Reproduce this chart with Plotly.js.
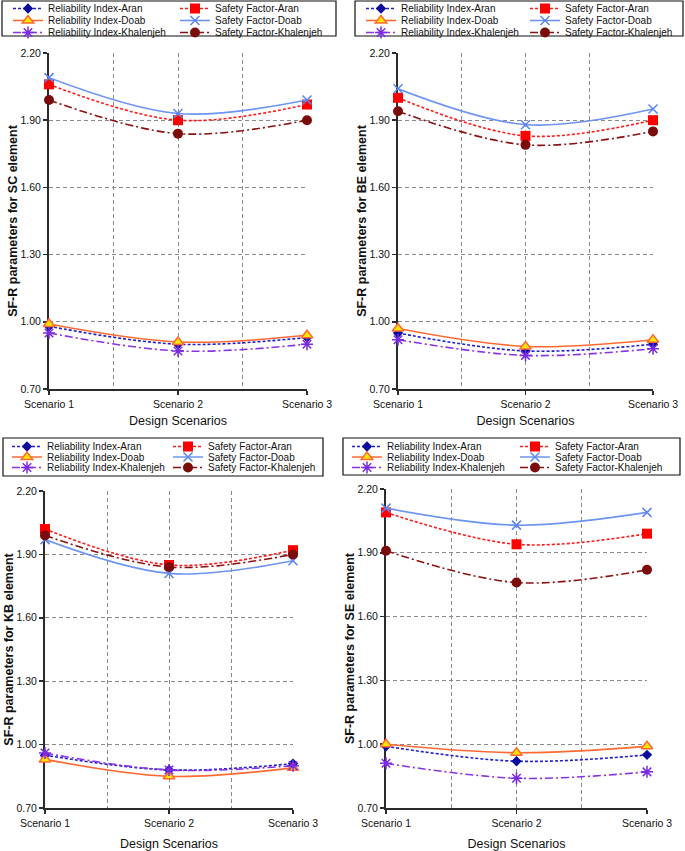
<!DOCTYPE html>
<html><head><meta charset="utf-8">
<script src="https://cdn.plot.ly/plotly-3.0.1.min.js"></script>
<style>html,body{margin:0;padding:0;background:#fff}#chart{width:685px;height:851px}</style>
</head><body><div id="chart"></div>
<script>
// ---- data ----
const scenarios = ['Scenario 1', 'Scenario 2', 'Scenario 3'];
const scenarioPos = [1, 2, 3];
const yTickVals = [0.70, 1.00, 1.30, 1.60, 1.90, 2.20];
const elements = ['SC', 'BE', 'KB', 'SE'];
const seriesNames = ['Reliability Index-Aran', 'Safety Factor-Aran', 'Reliability Index-Doab',
                     'Safety Factor-Doab', 'Reliability Index-Khalenjeh', 'Safety Factor-Khalenjeh'];

// SC element
const scRelAran = [0.98, 0.90, 0.93];
const scSafAran = [2.06, 1.90, 1.97];
const scRelDoab = [0.99, 0.91, 0.94];
const scSafDoab = [2.09, 1.93, 1.99];
const scRelKhal = [0.95, 0.87, 0.90];
const scSafKhal = [1.99, 1.84, 1.90];
// BE element
const beRelAran = [0.95, 0.87, 0.90];
const beSafAran = [2.00, 1.83, 1.90];
const beRelDoab = [0.97, 0.89, 0.92];
const beSafDoab = [2.04, 1.88, 1.95];
const beRelKhal = [0.92, 0.85, 0.88];
const beSafKhal = [1.94, 1.79, 1.85];
// KB element
const kbRelAran = [0.95, 0.88, 0.91];
const kbSafAran = [2.02, 1.85, 1.92];
const kbRelDoab = [0.93, 0.85, 0.89];
const kbSafDoab = [1.97, 1.81, 1.87];
const kbRelKhal = [0.96, 0.88, 0.90];
const kbSafKhal = [1.99, 1.84, 1.90];
// SE element
const seRelAran = [0.99, 0.92, 0.95];
const seSafAran = [2.09, 1.94, 1.99];
const seRelDoab = [1.00, 0.96, 0.99];
const seSafDoab = [2.11, 2.03, 2.09];
const seRelKhal = [0.91, 0.84, 0.87];
const seSafKhal = [1.91, 1.76, 1.82];

const panelSeries = [
  [scRelAran, scSafAran, scRelDoab, scSafDoab, scRelKhal, scSafKhal],
  [beRelAran, beSafAran, beRelDoab, beSafDoab, beRelKhal, beSafKhal],
  [kbRelAran, kbSafAran, kbRelDoab, kbSafDoab, kbRelKhal, kbSafKhal],
  [seRelAran, seSafAran, seRelDoab, seSafDoab, seRelKhal, seSafKhal]
];

// ---- styles ----
const W = 685, H = 851;
const FONT = 'Liberation Sans, Arial, Helvetica, sans-serif';
const seriesStyle = [
  {line: {color: '#1f1fd0', width: 1.6, dash: '3px,2px'}, marker: {symbol: 'diamond', size: 8, color: '#0c0c9c', line: {width: 0}}},
  {line: {color: '#ff1a1a', width: 1.6, dash: '3px,2px'}, marker: {symbol: 'square', size: 10, color: '#ff0000', line: {width: 0}}},
  {line: {color: '#ff6a33', width: 1.6}, marker: {symbol: 'triangle-up', size: 10, color: '#ffe600', line: {width: 1.5, color: '#ff6a33'}}},
  {line: {color: '#6d94f2', width: 1.6}, marker: {symbol: 'x-thin-open', size: 9, color: '#5b86ee', line: {width: 1.5, color: '#5b86ee'}}},
  {line: {color: '#8a33e6', width: 1.6, dash: '8px,3px,2px,3px'}, marker: {symbol: 'asterisk-open', size: 10, color: '#7a2be0', line: {width: 1.5, color: '#7a2be0'}}},
  {line: {color: '#8b1010', width: 1.6, dash: '8px,3px,2px,3px'}, marker: {symbol: 'circle', size: 10, color: '#7a0c0c', line: {width: 0}}}
];

// pixel layout of each panel
const panels = [
  {plot: [49, 307, 53, 389],  box: [2, 1, 336, 36],    colX: [8, 175],   rowY: [8.5, 20.5, 32.5], xStand: 8},
  {plot: [398, 653, 53, 389], box: [355, 1, 683, 36],  colX: [361, 525], rowY: [8.5, 20.5, 32.5], xStand: 8},
  {plot: [45, 293, 491, 808], box: [3, 438, 323, 476], colX: [7, 168],   rowY: [446.5, 457, 467.5], xStand: 13},
  {plot: [386, 647, 489, 808], box: [343, 438, 680, 475], colX: [347, 515], rowY: [446.5, 457, 467.5], xStand: 13}
];

const px = v => v / W;
const py = v => 1 - v / H;

const data = [];
const layout = {
  width: W, height: H,
  margin: {l: 0, r: 0, t: 0, b: 0, autoexpand: false},
  paper_bgcolor: '#fff', plot_bgcolor: '#fff',
  font: {family: FONT, size: 10.5, color: '#111'},
  showlegend: true,
  shapes: [],
  annotations: []
};

let legendIdx = 0;
panels.forEach((p, k) => {
  const ax = k === 0 ? '' : String(k + 1);
  const xa = 'xaxis' + ax, ya = 'yaxis' + ax;
  layout[xa] = {
    domain: [px(p.plot[0]), px(p.plot[1])], anchor: 'y' + ax,
    range: [1, 3], tickvals: scenarioPos, ticktext: scenarios,
    showline: true, linecolor: '#2b2b2b', linewidth: 2,
    ticks: 'outside', ticklen: 4, tickwidth: 1.5, tickcolor: '#2b2b2b',
    showgrid: true, gridcolor: '#8a8a8a', gridwidth: 1, griddash: '4px,3px',
    minor: {dtick: 0.5, tick0: 1, showgrid: true, gridcolor: '#8a8a8a', gridwidth: 1, griddash: '4px,3px', ticks: ''},
    zeroline: false, fixedrange: true, layer: 'below traces',
    tickfont: {family: FONT, size: 10.5, color: '#111'},
    title: {text: 'Design Scenarios', font: {family: FONT, size: 12.5, color: '#111'}, standoff: p.xStand}
  };
  layout[ya] = {
    domain: [py(p.plot[3]), py(p.plot[2])], anchor: 'x' + ax,
    range: [0.7, 2.2], tickvals: yTickVals, tickformat: '.2f',
    showline: true, linecolor: '#2b2b2b', linewidth: 2,
    ticks: 'outside', ticklen: 4, tickwidth: 1.5, tickcolor: '#2b2b2b',
    showgrid: true, gridcolor: '#8a8a8a', gridwidth: 1, griddash: '4px,3px',
    zeroline: false, fixedrange: true, layer: 'below traces',
    tickfont: {family: FONT, size: 10.5, color: '#111'},
    title: {text: 'SF-R parameters for ' + elements[k] + ' element', font: {family: FONT, size: 12.5, color: '#111', weight: 'bold'}, standoff: 0}
  };
  // legend box
  layout.shapes.push({type: 'rect', xref: 'paper', yref: 'paper',
    x0: px(p.box[0]), x1: px(p.box[2]), y0: py(p.box[3]), y1: py(p.box[1]),
    line: {color: '#111', width: 1.2}, fillcolor: 'rgba(0,0,0,0)'});

  panelSeries[k].forEach((vals, i) => {
    legendIdx += 1;
    const lid = legendIdx === 1 ? 'legend' : 'legend' + legendIdx;
    layout[lid] = {
      x: px(p.colX[i % 2]), y: py(p.rowY[Math.floor(i / 2)]),
      xref: 'paper', yref: 'paper', xanchor: 'left', yanchor: 'middle',
      bgcolor: 'rgba(0,0,0,0)', borderwidth: 0, itemwidth: 30,
      font: {family: FONT, size: 10, color: '#111'}
    };
    const st = seriesStyle[i];
    data.push({
      type: 'scatter', mode: 'lines+markers',
      x: scenarioPos, y: vals, name: seriesNames[i],
      xaxis: 'x' + ax, yaxis: 'y' + ax, legend: lid,
      line: Object.assign({shape: 'spline', smoothing: 1}, st.line),
      marker: st.marker, cliponaxis: false, hoverinfo: 'skip'
    });
  });
});

Plotly.newPlot('chart', data, layout, {staticPlot: true, displayModeBar: false});
</script>
</body></html>
